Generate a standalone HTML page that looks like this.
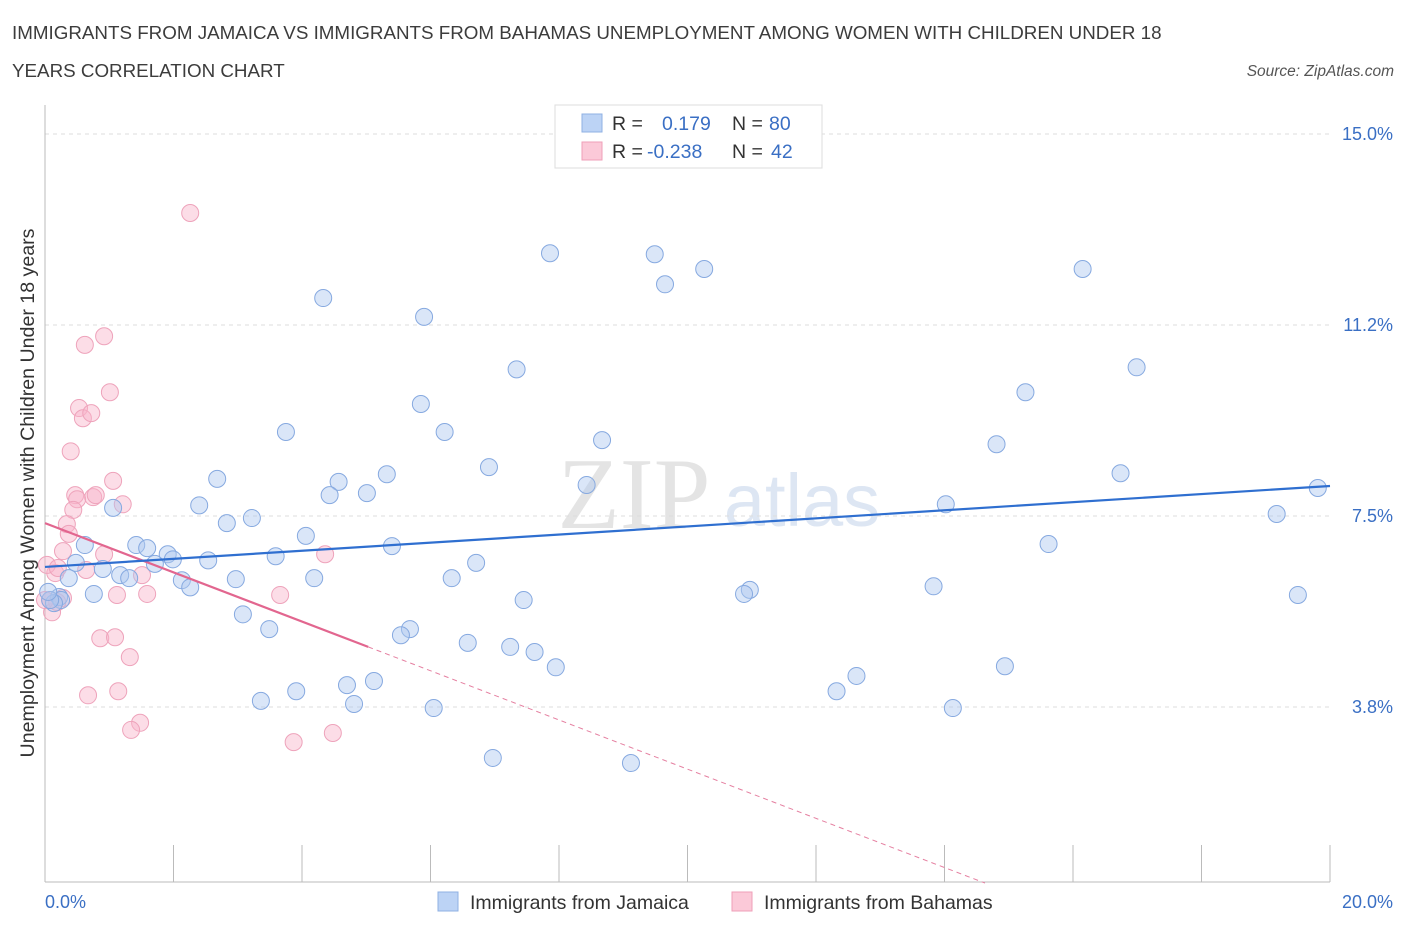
<!DOCTYPE html>
<html><head><meta charset="utf-8"><style>
body{margin:0;background:#fff;font-family:"Liberation Sans",sans-serif;}
svg{display:block}
</style></head><body>
<svg width="1406" height="930" xmlns="http://www.w3.org/2000/svg">
<text x="12" y="39" font-size="18.8" fill="#3c3c3c">IMMIGRANTS FROM JAMAICA VS IMMIGRANTS FROM BAHAMAS UNEMPLOYMENT AMONG WOMEN WITH CHILDREN UNDER 18</text>
<text x="12" y="77" font-size="18.8" fill="#3c3c3c">YEARS CORRELATION CHART</text>
<text x="1394" y="76" font-size="15.5" fill="#555" font-style="italic" text-anchor="end">Source: ZipAtlas.com</text>
<text x="634" y="528" font-size="102" fill="#e4e4e4" font-family="Liberation Serif,serif" text-anchor="middle">ZIP</text>
<text x="802" y="526" font-size="74" fill="#dde6f3" text-anchor="middle">atlas</text>
<g id="grid"></g>
<line x1="45" y1="105" x2="45" y2="882" stroke="#bbb"/>
<line x1="45" y1="882" x2="1330" y2="882" stroke="#bbb"/>
<g id="ticks"></g>
<text x="34" y="493" font-size="19.6" fill="#333" text-anchor="middle" transform="rotate(-90 34 493)">Unemployment Among Women with Children Under 18 years</text>
<text x="45" y="908" font-size="18" fill="#3a6fc4">0.0%</text>
<text x="1393" y="908" font-size="18" fill="#3a6fc4" text-anchor="end">20.0%</text>
<g id="pts"></g>
<g id="lines"></g>
<g>
<rect x="555" y="105" width="267" height="63" fill="#fff" stroke="#ddd"/>
<rect x="582" y="114" width="20" height="18" fill="#bcd3f5" stroke="#8fb0e3"/>
<rect x="582" y="142" width="20" height="18" fill="#fbc9d8" stroke="#ef9fb8"/>
<text x="612" y="130" font-size="19.5" fill="#333">R = </text><text x="662" y="130" font-size="19.5" fill="#3a6fc4">0.179</text>
<text x="732" y="130" font-size="19.5" fill="#333">N = </text><text x="769" y="130" font-size="19.5" fill="#3a6fc4">80</text>
<text x="612" y="158" font-size="19.5" fill="#333">R = </text><text x="647" y="158" font-size="19.5" fill="#3a6fc4">-0.238</text>
<text x="732" y="158" font-size="19.5" fill="#333">N = </text><text x="771" y="158" font-size="19.5" fill="#3a6fc4">42</text>
</g>
<g>
<rect x="438" y="892" width="20" height="19" fill="#bcd3f5" stroke="#8fb0e3"/>
<text x="470" y="909" font-size="19.5" fill="#333">Immigrants from Jamaica</text>
<rect x="732" y="892" width="20" height="19" fill="#fbc9d8" stroke="#ef9fb8"/>
<text x="764" y="909" font-size="19.5" fill="#333">Immigrants from Bahamas</text>
</g>
</svg>
<script>
const yTicks=[3.75,7.5,11.25,15];
const yTickLabels=["3.8%","7.5%","11.2%","15.0%"];
const xTicks=[0,2,4,6,8,10,12,14,16,18,20];
const jamX=[7.86,9.49,10.26,9.65,16.15,4.33,5.90,7.34,16.99,15.26,5.85,3.75,6.22,8.67,14.81,6.91,2.68,5.32,16.74,4.57,8.43,4.43,5.01,1.06,2.40,14.02,19.81,3.22,2.83,19.17,4.06,0.62,1.42,1.59,1.91,5.40,15.62,0.48,0.90,1.99,1.71,2.54,3.59,6.71,0.37,1.17,1.31,2.13,2.26,2.97,4.19,6.33,13.83,10.97,10.88,0.76,0.22,0.25,0.14,19.50,7.45,3.08,3.49,5.68,5.54,6.58,7.24,7.62,7.95,14.94,12.63,5.12,4.70,3.91,12.32,3.36,4.81,6.05,14.13,6.97,9.12,0.08,0.05];
const jamY=[12.66,12.64,12.35,12.05,12.35,11.78,11.41,10.38,10.42,9.93,9.70,9.15,9.15,8.99,8.91,8.46,8.23,8.32,8.34,8.17,8.11,7.91,7.95,7.66,7.71,7.73,8.05,7.46,7.36,7.54,7.11,6.93,6.93,6.87,6.75,6.91,6.95,6.58,6.46,6.65,6.56,6.63,6.71,6.58,6.28,6.34,6.28,6.24,6.10,6.26,6.28,6.28,6.12,6.05,5.97,5.97,5.91,5.85,5.79,5.95,5.85,5.57,5.28,5.28,5.16,5.01,4.93,4.83,4.53,4.55,4.36,4.26,4.18,4.06,4.06,3.87,3.81,3.73,3.73,2.75,2.65,5.85,6.01];
const bahX=[2.26,0.92,0.62,1.01,0.53,0.59,0.72,0.40,1.06,0.47,0.50,0.75,0.79,1.21,0.44,0.34,0.37,0.28,0.92,0.64,1.51,0.16,0.03,0.20,4.36,1.12,1.59,3.66,0.08,0.11,0.28,0.19,0.86,1.09,1.32,0.67,1.14,1.48,1.34,3.87,4.48,0];
const bahY=[13.45,11.03,10.86,9.93,9.62,9.42,9.52,8.77,8.19,7.91,7.83,7.87,7.91,7.73,7.62,7.34,7.15,6.81,6.75,6.44,6.34,6.38,6.54,6.48,6.75,5.95,5.97,5.95,5.85,5.61,5.89,5.81,5.10,5.12,4.73,3.98,4.06,3.44,3.30,3.06,3.24,5.85];
const jamTrend=[6.50,8.09];
const bahTrend=[7.36,-0.483];
const bahSolidEnd=5.03, bahDashEnd=14.63;
const NS="http://www.w3.org/2000/svg";
const sx=v=>45+v*64.25, sy=v=>898-v*50.93;
function mk(t,a,p){const e=document.createElementNS(NS,t);for(const k in a)e.setAttribute(k,a[k]);p.appendChild(e);return e;}
const grid=document.getElementById('grid');
yTicks.forEach((v,i)=>{
 const l=mk('line',{x1:45,x2:1330,y1:sy(v),y2:sy(v),stroke:'#ddd','stroke-dasharray':'4,4'},grid);
 
 
 const t=mk('text',{x:1393,y:sy(v)+6,'font-size':18,fill:'#3a6fc4','text-anchor':'end'},grid);
 t.textContent=yTickLabels[i];
 
 
});
const tk=document.getElementById('ticks');
xTicks.forEach(v=>{
 const l=mk('line',{x1:sx(v),x2:sx(v),y1:845,y2:882,stroke:'#bbb'},tk);
 
 
});
const pts=document.getElementById('pts');
bahX.forEach((x,i)=>{
 const c=mk('circle',{cx:sx(x),cy:sy(bahY[i]),r:8.5,fill:'rgba(248,180,201,0.45)',stroke:'#eea3bb','stroke-width':1},pts);
 
 
});
jamX.forEach((x,i)=>{
 const c=mk('circle',{cx:sx(x),cy:sy(jamY[i]),r:8.5,fill:'rgba(174,200,240,0.45)',stroke:'#86a9e0','stroke-width':1},pts);
 
 
});
const ln=document.getElementById('lines');
const b=x=>bahTrend[0]+bahTrend[1]*x;
let e=mk('line',{x1:sx(bahSolidEnd),y1:sy(b(bahSolidEnd)),x2:sx(bahDashEnd),y2:sy(b(bahDashEnd)),stroke:'#e57fa0','stroke-width':1,'stroke-dasharray':'5,4'},ln);


e=mk('line',{x1:sx(0),y1:sy(b(0)),x2:sx(bahSolidEnd),y2:sy(b(bahSolidEnd)),stroke:'#e2668f','stroke-width':2.2},ln);


e=mk('line',{x1:sx(0),y1:sy(jamTrend[0]),x2:sx(20),y2:sy(jamTrend[1]),stroke:'#2f6fd0','stroke-width':2.2},ln);


</script>
</body></html>
